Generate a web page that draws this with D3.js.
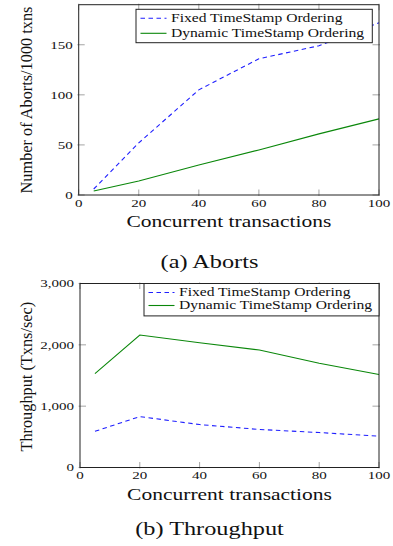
<!DOCTYPE html>
<html>
<head>
<meta charset="utf-8">
<script src="https://cdn.jsdelivr.net/npm/d3@7"></script>
<style>
  html, body { margin: 0; padding: 0; background: #fff; }
  svg { display: block; }
</style>
</head>
<body>
<svg id="fig" width="393" height="546"></svg>
<script>
// Concurrency levels measured (x axis)
const concurrency = [5, 20, 40, 60, 80, 100];

// Aborts per 1000 transactions
const abortsFixed   = [6, 52, 105, 136, 149, 172];
const abortsDynamic = [4, 14, 30, 45, 61, 76];

// Throughput in transactions per second
const throughputFixed   = [590, 830, 700, 620, 570, 510];
const throughputDynamic = [1530, 2160, 2035, 1915, 1700, 1515];

// Tick values
const xTicks          = [0, 20, 40, 60, 80, 100];
const abortsTicks     = [0, 50, 100, 150];
const throughputTicks = [0, 1000, 2000, 3000];

// Labels
const seriesNames = ["Fixed TimeStamp Ordering", "Dynamic TimeStamp Ordering"];
const xTitle = "Concurrent transactions";
const yTitles = ["Number of Aborts/1000 txns", "Throughput (Txns/sec)"];
const captions = ["(a) Aborts", "(b) Throughput"];

const SERIF = "'Liberation Serif', 'Times New Roman', serif";
const SX = 1.33;                 // horizontal widening of the set type
const BLUE = "#1f1fff", GREEN = "#0a870a";

const svg = d3.select("#fig");
svg.append("rect").attr("width", 393).attr("height", 546).attr("fill", "#fff");

function wideText(g, str, x, y, size, anchor, sx) {
  return g.append("text")
    .attr("transform", `translate(${x},${y}) scale(${sx},1)`)
    .attr("text-anchor", anchor)
    .style("font-family", SERIF)
    .style("font-size", size + "px")
    .attr("fill", "#111")
    .text(str);
}

const panels = [
  {
    box: { left: 78.7, right: 379, top: 4.7, bottom: 195 },
    yDomain: [0, 190], yTicks: abortsTicks, fmt: d3.format("d"),
    series: [abortsFixed, abortsDynamic],
    yTitle: yTitles[0], yTitleY: 100,
    xTitleY: 227.3, caption: captions[0], captionY: 268.3,
    legend: { dx: -6.7, dy: 4.6, w: 236.3, h: 33.4, rowGap: 15 }
  },
  {
    box: { left: 80, right: 379, top: 283.5, bottom: 467.5 },
    yDomain: [0, 3000], yTicks: throughputTicks, fmt: d3.format(","),
    series: [throughputFixed, throughputDynamic],
    yTitle: yTitles[1], yTitleY: 376.7,
    xTitleY: 500, caption: captions[1], captionY: 535,
    legend: { dx: 0, dy: 0, w: 235, h: 32.4, rowGap: 13 }
  }
];

const styles = [
  { color: BLUE, dash: "4.5,3.5" },
  { color: GREEN, dash: null }
];

panels.forEach(p => {
  const b = p.box;
  const g = svg.append("g");
  const x = d3.scaleLinear().domain([0, 100]).range([b.left, b.right]);
  const y = d3.scaleLinear().domain(p.yDomain).range([b.bottom, b.top]);

  // tick marks on all four sides, pointing inward
  const tk = g.append("g").attr("stroke", "#9a9a9a").attr("stroke-width", 0.9);
  xTicks.forEach(v => {
    tk.append("line").attr("x1", x(v)).attr("x2", x(v)).attr("y1", b.bottom + 1).attr("y2", b.bottom - 5.5);
    tk.append("line").attr("x1", x(v)).attr("x2", x(v)).attr("y1", b.top - 1).attr("y2", b.top + 5.5);
  });
  p.yTicks.forEach(v => {
    tk.append("line").attr("x1", b.left - 1.4).attr("x2", b.left + 6).attr("y1", y(v)).attr("y2", y(v));
    tk.append("line").attr("x1", b.right + 1).attr("x2", b.right - 6.5).attr("y1", y(v)).attr("y2", y(v));
  });

  // series lines
  const line = d3.line().x((d, i) => x(concurrency[i])).y(d => y(d));
  p.series.forEach((vals, k) => {
    g.append("path").datum(vals)
      .attr("d", line)
      .attr("fill", "none")
      .attr("stroke", styles[k].color)
      .attr("stroke-width", 1.1)
      .attr("stroke-dasharray", styles[k].dash);
  });

  // frame
  g.append("rect")
    .attr("x", b.left).attr("y", b.top)
    .attr("width", b.right - b.left).attr("height", b.bottom - b.top)
    .attr("fill", "none").attr("stroke", "#222").attr("stroke-width", 1);

  // tick labels
  xTicks.forEach(v => wideText(g, String(v), x(v), b.bottom + 11.7, 11.3, "middle", SX));
  p.yTicks.forEach(v => wideText(g, p.fmt(v), b.left - 6, y(v) + 3.8, 11.3, "end", SX));

  // axis titles
  wideText(g, xTitle, (b.left + b.right) / 2, p.xTitleY, 16, "middle", 1.345);
  g.append("text")
    .attr("transform", `translate(32.3,${p.yTitleY}) rotate(-90)`)
    .attr("text-anchor", "middle")
    .style("font-family", SERIF).style("font-size", "16.3px")
    .attr("fill", "#111")
    .text(p.yTitle);

  // legend
  const L = p.legend;
  const lx = b.right + L.dx - L.w, ly = b.top + L.dy;
  const lg = g.append("g").attr("transform", `translate(${lx},${ly})`);
  lg.append("rect").attr("width", L.w).attr("height", L.h)
    .attr("fill", "#fff").attr("stroke", "#222").attr("stroke-width", 1);
  seriesNames.forEach((name, k) => {
    const ry = 9 + k * L.rowGap;
    lg.append("line").attr("x1", 4.5).attr("x2", 30.5).attr("y1", ry).attr("y2", ry)
      .attr("stroke", styles[k].color).attr("stroke-width", 1.1)
      .attr("stroke-dasharray", styles[k].dash);
    wideText(lg, name, 35, ry + 3.6, 13, "start", 1.2);
  });

  // caption
  wideText(svg, p.caption, 209.5, p.captionY, 18, "middle", 1.35);
});
</script>
</body>
</html>
